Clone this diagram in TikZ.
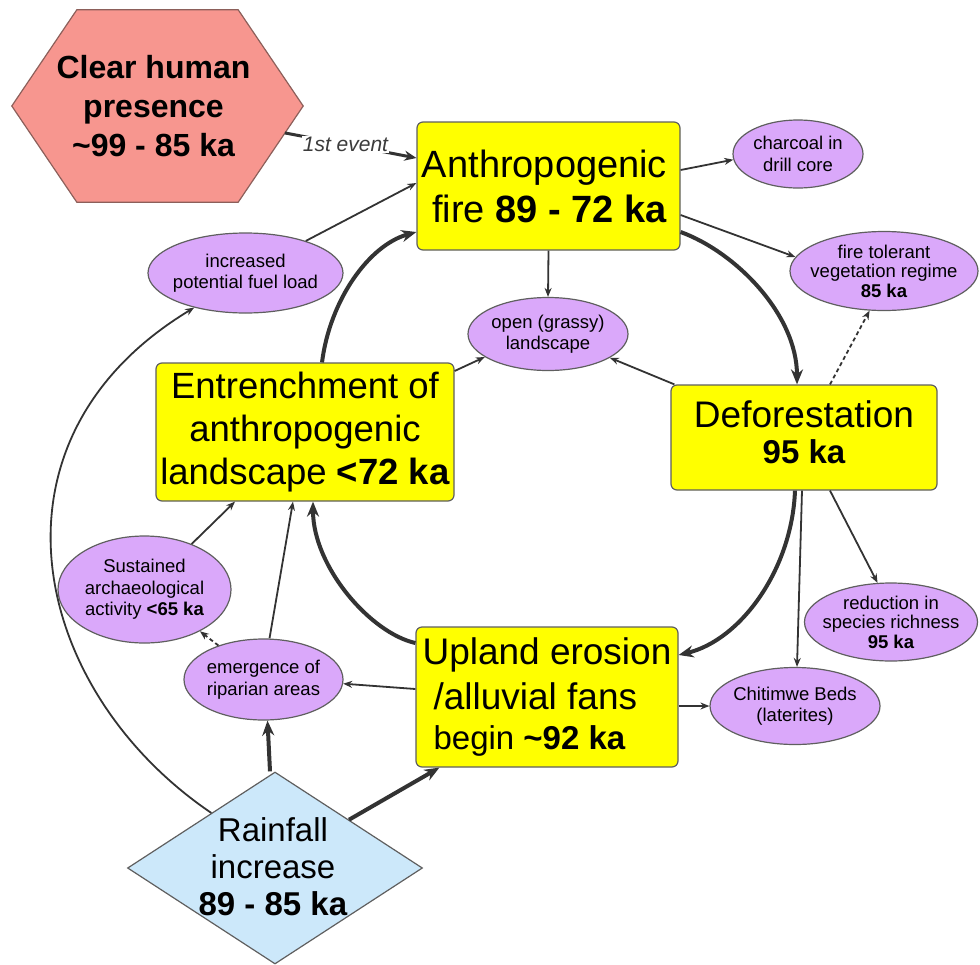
\documentclass[tikz,border=0pt]{standalone}
\usepackage{fontspec}
\setmainfont{Liberation Sans}
\usetikzlibrary{shapes.geometric,arrows.meta,calc,backgrounds}
\definecolor{boxyellow}{RGB}{255,255,0}
\definecolor{ellpurple}{RGB}{218,168,250}
\definecolor{rainblue}{RGB}{204,232,250}
\definecolor{hexred}{RGB}{247,150,143}
\definecolor{hexedge}{RGB}{140,95,90}
\definecolor{edgegray}{RGB}{95,95,95}
\definecolor{linkgray}{RGB}{51,51,51}
\definecolor{eventgray}{RGB}{60,60,60}
\begin{document}
\begin{tikzpicture}[x=1pt,y=-1pt,
  ybox/.style={rectangle, rounded corners=6pt, draw=edgegray, line width=1.2pt, fill=boxyellow, inner sep=0pt},
  ell/.style={ellipse, draw=edgegray, line width=1.2pt, fill=ellpurple, inner sep=0pt},
  hexbox/.style={rectangle, draw=none, inner sep=0pt},
  bigtext/.style={font=\fontsize{37}{45}\selectfont, align=center, inner sep=0pt},
  hextext/.style={font=\fontsize{32}{39}\selectfont\bfseries, align=center, inner sep=0pt},
  smalltext/.style={font=\fontsize{18.5}{21.5}\selectfont, align=center, inner sep=0pt},
  link/.style={draw=linkgray, line width=1.8pt, -{Stealth[length=9pt,width=7pt]}},
  midlink/.style={draw=linkgray, line width=3pt, -{Stealth[length=12pt,width=10pt]}},
  thicklink/.style={draw=linkgray, line width=4pt, -{Stealth[length=15pt,width=12pt]}},
  dashlink/.style={link, dash pattern=on 4pt off 3pt},
  eventlbl/.style={fill=white, inner sep=1pt, text=eventgray, font=\fontsize{21}{23}\selectfont\itshape}
]
\useasboundingbox (0,0) rectangle (980,964);

% hexagon
\node[hexbox, minimum width=291pt, minimum height=192pt,
  label={[hextext, xshift=-4pt]center:{Clear human\\presence\\\textasciitilde 99 - 85 ka}}] (hex) at (157.5,106) {};
\begin{scope}[on background layer]
\filldraw[fill=hexred, draw=hexedge, line width=1.2pt]
  (hex.west) -- ([xshift=65pt]hex.north west) -- ([xshift=-65pt]hex.north east)
  -- (hex.east) -- ([xshift=-65pt]hex.south east) -- ([xshift=65pt]hex.south west) -- cycle;
\end{scope}

% yellow boxes
\node[ybox, minimum width=263pt, minimum height=128pt,
  label={[bigtext, font=\fontsize{38}{45}\selectfont, align=right, xshift=-4pt]center:{Anthropogenic\\fire \textbf{89 - 72 ka}}}] (fire) at (548.5,186) {};
\node[ybox, minimum width=266pt, minimum height=105pt,
  label={[bigtext, font=\fontsize{37}{36}\selectfont, yshift=5pt]center:{Deforestation\\{\fontsize{33}{36}\selectfont\bfseries 95 ka}}}] (defo) at (804,437.5) {};
\node[ybox, minimum width=298pt, minimum height=138pt,
  label={[bigtext, font=\fontsize{36.5}{43}\selectfont]center:{Entrenchment of\\anthropogenic\\landscape \textbf{<72 ka}}}] (ent) at (305,432) {};
\node[ybox, minimum width=262pt, minimum height=140pt,
  label={[bigtext, align=left]center:{Upland erosion\\\hspace*{11pt}/alluvial fans\\[-5pt]\hspace*{11pt}{\fontsize{33}{40}\selectfont begin \textbf{\textasciitilde 92 ka}}}}] (upland) at (547,697) {};

% diamond
\node[diamond, draw=edgegray, line width=1.2pt, fill=rainblue, minimum width=295pt, minimum height=192pt, inner sep=0pt,
  label={[bigtext, font=\fontsize{33}{37}\selectfont, xshift=-2pt, yshift=1pt]center:{Rainfall\\increase\\\textbf{89 - 85 ka}}}] (rain) at (275,868) {};

% ellipses
\node[ell, minimum width=195pt, minimum height=80pt,
  label={[smalltext]center:{increased\\potential fuel load}}] (fuel) at (245.5,273) {};
\node[ell, minimum width=130pt, minimum height=68pt,
  label={[smalltext]center:{charcoal in\\drill core}}] (charcoal) at (798,154) {};
\node[ell, minimum width=188pt, minimum height=79pt,
  label={[smalltext, font=\fontsize{18.5}{19.5}\selectfont]center:{fire tolerant\\vegetation regime\\\textbf{85 ka}}}] (tolerant) at (884,271) {};
\node[ell, minimum width=160pt, minimum height=73pt,
  label={[smalltext]center:{open (grassy)\\landscape}}] (open) at (548,334) {};
\node[ell, minimum width=173pt, minimum height=107pt,
  label={[smalltext]center:{Sustained\\archaeological\\activity \textbf{<65 ka}}}] (sust) at (144.5,589.5) {};
\node[ell, minimum width=159pt, minimum height=81pt,
  label={[smalltext]center:{emergence of\\riparian areas}}] (emerg) at (263.5,679.5) {};
\node[ell, minimum width=170pt, minimum height=77pt,
  label={[smalltext]center:{Chitimwe Beds\\(laterites)}}] (chit) at (795,706) {};
\node[ell, minimum width=173pt, minimum height=78pt,
  label={[smalltext, font=\fontsize{18.5}{19.5}\selectfont]center:{reduction in\\species richness\\\textbf{95 ka}}}] (reduc) at (891,622) {};

% connectors
\draw[midlink] ($(hex.east)!0.28!([xshift=-65pt]hex.south east)$) -- node[eventlbl, pos=0.46]{1st event} ([yshift=28pt]fire.west);
\draw[link] (fuel.28) -- ([yshift=3pt]fire.west);
\draw[thicklink] ([xshift=17pt]ent.north) .. controls +(8,-63) and +(-47,13) .. ([yshift=-46pt]fire.west);
\draw[link] ([yshift=16pt]fire.east) -- (charcoal.185);
\draw[link] ([yshift=-29pt]fire.east) -- (tolerant.171);
\draw[link] (fire.south) -- (open.north);
\draw[thicklink] ([yshift=-46pt]fire.east) .. controls +(55,20) and +(0,-70) .. ([xshift=-7pt]defo.north);
\draw[dashlink] ([xshift=26pt]defo.north) -- (tolerant.250);
\draw[link] ([xshift=4pt]defo.north west) -- (open.339);
\draw[link] ([yshift=61pt]ent.east) -- (open.200);
\draw[thicklink] ([xshift=-9pt]defo.south) .. controls +(-3,79) and +(62,-15) .. ([yshift=42pt]upland.east);
\draw[link] ([xshift=-2pt]defo.south) -- ([xshift=2pt]chit.north);
\draw[link] ([xshift=26pt]defo.south) -- (reduc.109);
\draw[thicklink] ([yshift=54pt]upland.west) .. controls +(-45,-10) and +(0,65) .. ([xshift=8pt]ent.south);
\draw[link] ([yshift=8pt]upland.west) -- (emerg.357);
\draw[link] (chit.west -| upland.east) -- (chit.west);
\draw[link] ([xshift=6pt]emerg.north) -- ([xshift=-12pt]ent.south);
\draw[dashlink] (emerg.143) -- (sust.323);
\draw[link] (sust.44) -- ([xshift=-70pt]ent.south);
\draw[thicklink] ([xshift=-5pt]rain.north) -- ([xshift=4pt]emerg.south);
\draw[thicklink] (rain.north east) -- ([xshift=24pt]upland.south west);
\draw[link] ($(rain.north)!0.43!(rain.west)$) .. controls (30,690) and (-25,440) .. (fuel.214);
\end{tikzpicture}
\end{document}
